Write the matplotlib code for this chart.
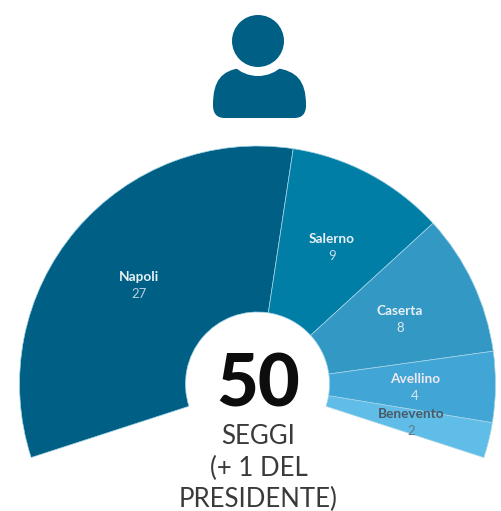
import matplotlib
matplotlib.use('Agg')
import matplotlib.pyplot as plt
from matplotlib.patches import Circle, PathPatch
from matplotlib.path import Path

# seats per province, clockwise from the left end of the arc
provinces = ['Napoli', 'Salerno', 'Caserta', 'Avellino', 'Benevento']
seats = [27, 9, 8, 4, 2]
colors = ['#005f85', '#007ea6', '#3398c4', '#41a6d6', '#5fbde8']
name_colors = ['#e8f1f5', '#e8f1f5', '#e8f1f5', '#f0e8f0', '#4a5a66']
seat_colors = ['#b8d0dc', '#c8dfe8', '#e0e8ea', '#dde8ee', '#5a7a8c']
# label centres in picture pixels
label_x = [139, 332, 400, 415, 411]
label_y = [277, 239, 311, 379, 414]
center_lines = ['SEGGI', '(+ 1 DEL', 'PRESIDENTE)']
center_y = [436, 468, 499]

H = 511
CX, CY = 257.5, H - 384
R_OUT, R_IN = 238, 72
ARC_SHARE = 216 / 360

fig = plt.figure(figsize=(5.02, 5.11), dpi=100)
ax = fig.add_axes([0, 0, 1, 1])

total = sum(seats)
fractions = [s / total * ARC_SHARE for s in seats]
ax.pie(fractions, colors=colors, normalize=False, startangle=198, counterclock=False,
       center=(CX, CY), radius=R_OUT, frame=True,
       wedgeprops={'width': R_OUT - R_IN, 'edgecolor': '#a5d5e8', 'linewidth': 0.5})

ax.set_xlim(0, 502)
ax.set_ylim(0, H)
ax.set_aspect('equal')
ax.axis('off')

# labels inside the wedges
for name, s, x, y, nc, sc in zip(provinces, seats, label_x, label_y, name_colors, seat_colors):
    ax.text(x, H - y, name, ha='center', va='center', family='Lato', weight='bold', fontsize=9.8, color=nc)
    ax.text(x, H - y - 17, str(s), ha='center', va='center', family='Lato', fontsize=9.5, color=sc)

# centre text
ax.text(258.5, H - 386, str(total), ha='center', va='center', family='Lato', weight='black',
        fontsize=52, color='#0d0d0d')
for line, y in zip(center_lines, center_y):
    ax.text(258.5, H - y, line, ha='center', va='center', family='Lato', fontsize=18.5, color='#3a3a3a')

# person icon
icon = '#005f85'
body = Path(
    [(213, H - 105), (213, H - 80), (222, H - 71), (240, H - 68),
     (258, H - 68), (276, H - 68), (296, H - 71), (306, H - 80), (306, H - 105),
     (306, H - 114), (302, H - 118), (294, H - 118),
     (225, H - 118), (217, H - 118), (213, H - 114), (213, H - 105), (213, H - 105)],
    [Path.MOVETO, Path.CURVE4, Path.CURVE4, Path.CURVE4,
     Path.LINETO, Path.LINETO, Path.CURVE4, Path.CURVE4, Path.CURVE4,
     Path.CURVE4, Path.CURVE4, Path.CURVE4,
     Path.LINETO, Path.CURVE4, Path.CURVE4, Path.CURVE4, Path.CLOSEPOLY])
ax.add_patch(PathPatch(body, facecolor=icon, edgecolor='none'))
ax.add_patch(Circle((258, H - 41), 35, facecolor='white', edgecolor='none'))
ax.add_patch(Circle((258, H - 41), 26, facecolor=icon, edgecolor='none'))

fig.savefig('out.png', dpi=100)
